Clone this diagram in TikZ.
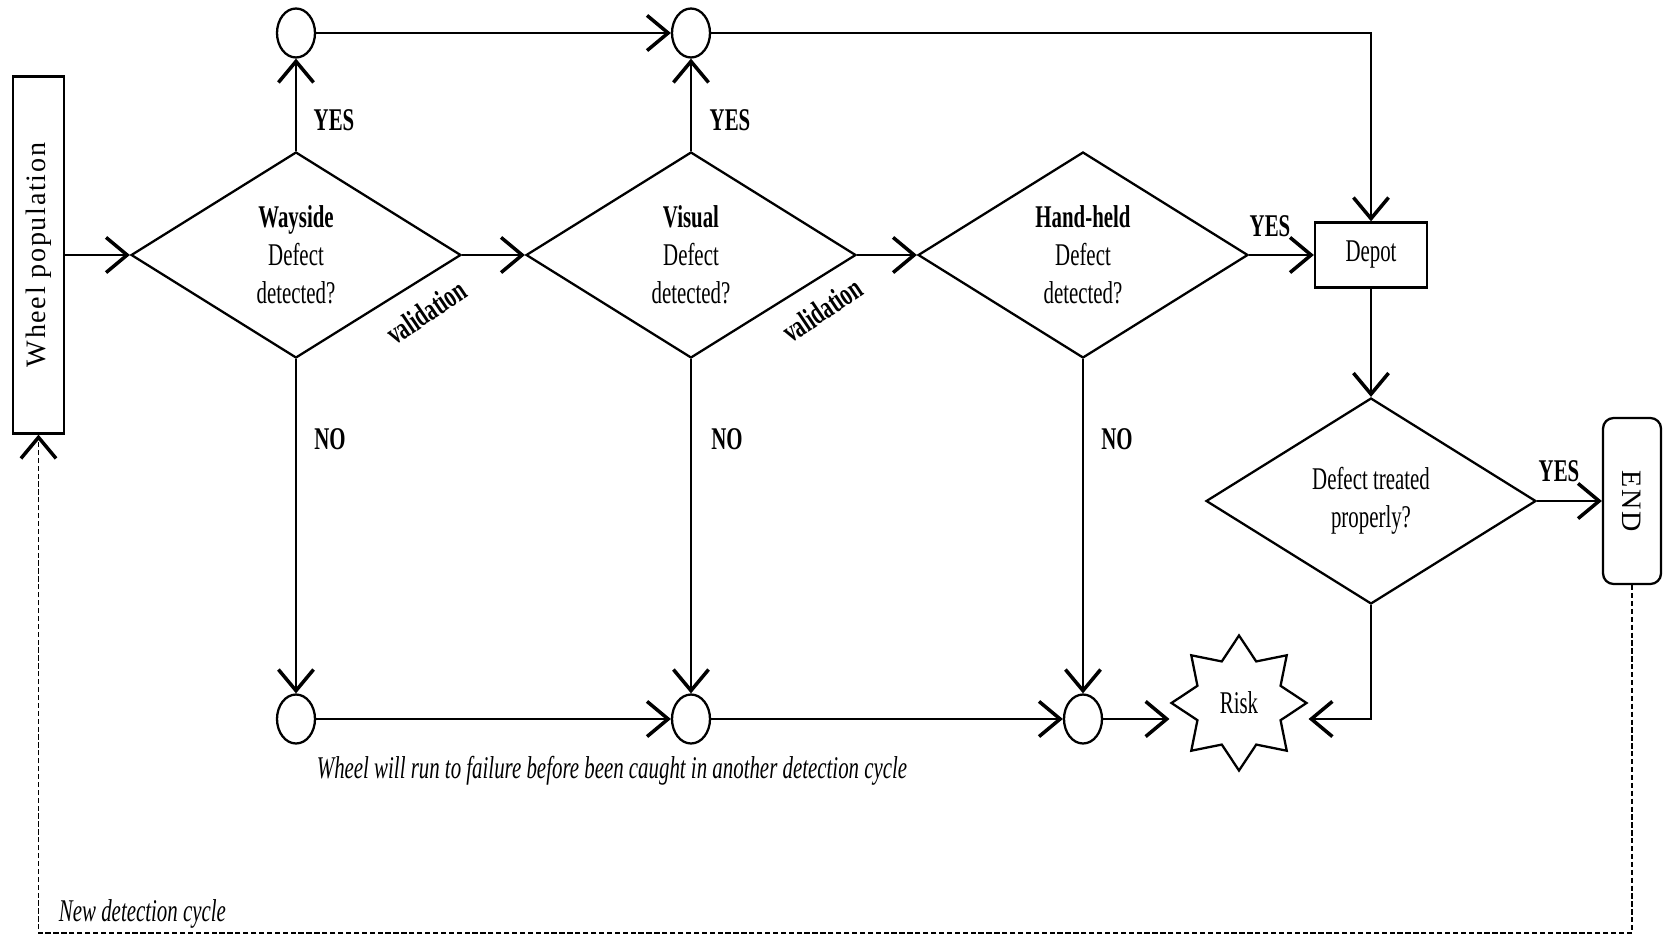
\documentclass[tikz,border=0pt]{standalone}
\usepackage{fontspec}
\setmainfont{Liberation Serif}[FakeStretch=0.66]
\newfontfamily\widefont{Liberation Serif}[LetterSpace=6]
\usetikzlibrary{arrows.meta,shapes.geometric,positioning,calc}
\tikzset{every picture/.style={line width=1.3pt}}
\tikzset{
  txt/.style={font=\fontsize{18}{21.6}\selectfont},
  lbl/.style={font=\fontsize{18}{21.6}\selectfont\bfseries},
  note/.style={font=\fontsize{18}{21.6}\selectfont\itshape},
  decision/.style={draw, diamond, minimum width=6.6cm, minimum height=4.12cm, inner sep=0pt, align=center, txt},
  junction/.style={draw, ellipse, minimum width=0.76cm, minimum height=0.98cm, inner sep=0pt},
  flow/.style={-{Straight Barb[length=12pt,width=20pt,line width=2pt]}}
}

\begin{document}
\begin{tikzpicture}[x=0.02cm, y=-0.02cm]
    \useasboundingbox (0,0) rectangle (1663,936);

    % start and end boxes
    \node[draw, minimum width=1.02cm, minimum height=7.14cm, inner sep=0pt,
          label={[rotate=90, font=\widefont\fontsize{16}{20}\selectfont]center:Wheel population}] (pop) at (38.5,255) {};
    \node[draw, rounded corners=6pt, minimum width=1.16cm, minimum height=3.32cm, inner sep=0pt,
          label={[rotate=-90, font=\widefont\fontsize{16}{20}\selectfont]center:END}] (endbox) at (1632,501) {};

    % detection decisions
    \node[decision] (wayside) at (296,255) {\textbf{Wayside}\\Defect\\detected?};
    \node[decision] (visual) at (691,255) {\textbf{Visual}\\Defect\\detected?};
    \node[decision] (handheld) at (1083,255) {\textbf{Hand-held}\\Defect\\detected?};

    % depot and treatment
    \node[draw, minimum width=2.24cm, minimum height=1.3cm, txt] (depot) at (1371,255) {Depot};
    \node[decision] (treated) at (1371,501) {Defect treated\\properly?};
    \node[draw, star, star points=8, star point ratio=1.5, minimum size=2.7cm, inner sep=0pt, txt] (risk) at (1239,703) {Risk};

    % junction circles
    \node[junction] (yesA) at (296,33) {};
    \node[junction] (yesB) at (691,33) {};
    \node[junction] (noA) at (296,719) {};
    \node[junction] (noB) at (691,719) {};
    \node[junction] (noC) at (1083,719) {};

    % main flow
    \draw[flow] (pop.east) -- (wayside.west);
    \draw[flow] (wayside.east) -- (visual.west);
    \draw[flow] (visual.east) -- (handheld.west);
    \draw[flow] (handheld.east) -- (depot.west);
    \draw[flow] (depot.south) -- (treated.north);
    \draw[flow] (treated.east) -- (endbox.west);

    % yes branches
    \draw[flow] (wayside.north) -- (yesA.south);
    \draw[flow] (visual.north) -- (yesB.south);
    \draw[flow] (yesA.east) -- (yesB.west);
    \draw[flow] (yesB.east) -| (depot.north);

    % no branches
    \draw[flow] (wayside.south) -- (noA.north);
    \draw[flow] (visual.south) -- (noB.north);
    \draw[flow] (handheld.south) -- (noC.north);
    \draw[flow] (noA.east) -- (noB.west);
    \draw[flow] (noB.east) -- (noC.west);
    \draw[flow] (noC.east) -- (noC -| risk.west);
    \draw[flow] (treated.south) |- (noC -| risk.east);

    % new detection cycle
    \coordinate (cycle) at (38.5,933);
    \draw[flow, dash pattern=on 3pt off 1.5pt, line width=0.8pt] (endbox.south) |- (cycle) -- (pop.south);

    % labels
    \node[lbl] (yesa) at (334,120) {YES};
    \node[lbl] (yesb) at (730,120) {YES};
    \node[lbl] (yesc) at (1270,226) {YES};
    \node[lbl] (yesd) at (1559,471) {YES};
    \node[lbl] (noa) at (330,439) {NO};
    \node[lbl] (nob) at (727,439) {NO};
    \node[lbl] (noc) at (1117,439) {NO};
    \node[lbl, rotate=34, inner sep=1pt] (vala) at (426,312) {validation};
    \node[lbl, rotate=34, inner sep=1pt] (valb) at (822,310) {validation};
    \node[note] (failure) at (612,771) {Wheel will run to failure before been caught in another detection cycle};
    \node[note, anchor=west] (newcycle) at (52,914) {New detection cycle};
\end{tikzpicture}
\end{document}
